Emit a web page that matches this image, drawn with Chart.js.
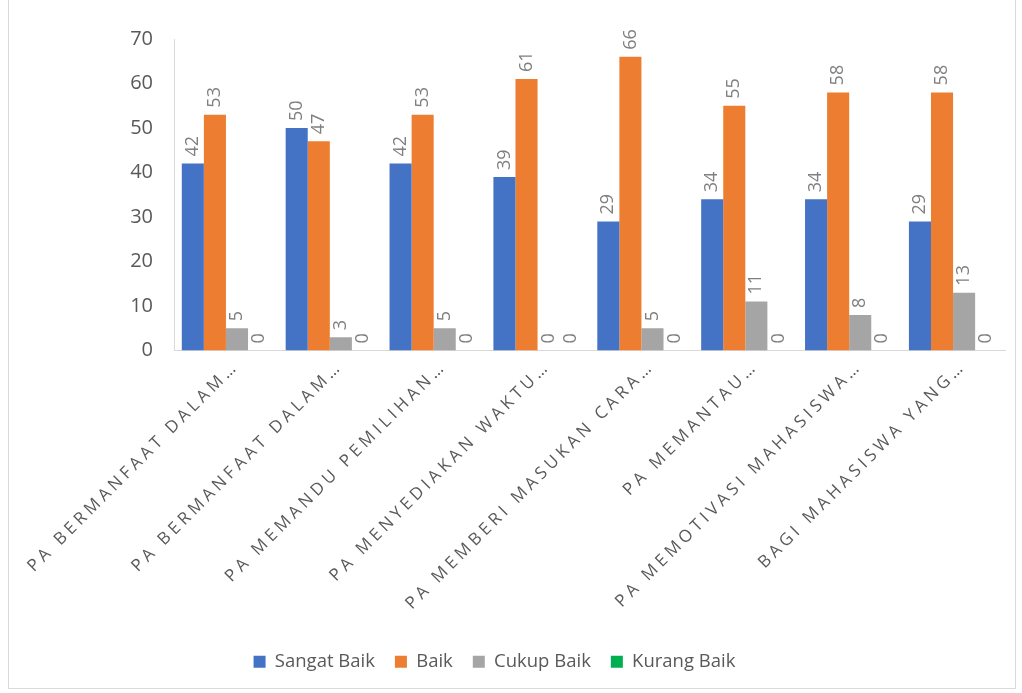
<!DOCTYPE html>
<html>
<head>
<meta charset="utf-8">
<script src="https://cdn.jsdelivr.net/npm/chart.js@4.4.1/dist/chart.umd.min.js"></script>
<style>
  html, body { margin: 0; padding: 0; background: #fff; }
  #wrap { position: relative; width: 1022px; height: 693px; }
  #frame { position: absolute; left: 8px; top: -2px; width: 1008px; height: 691px; border: 1px solid #d9d9d9; box-sizing: border-box; }
  canvas { position: absolute; left: 0; top: 0; }
</style>
</head>
<body>
<div id="wrap">
  <div id="frame"></div>
  <canvas id="chart" width="1022" height="693"></canvas>
</div>
<script>
// Data
const categories = [
    'PA BERMANFAAT DALAM\u2026',
    'PA BERMANFAAT DALAM\u2026',
    'PA MEMANDU PEMILIHAN\u2026',
    'PA MENYEDIAKAN WAKTU\u2026',
    'PA MEMBERI MASUKAN CARA\u2026',
    'PA MEMANTAU\u2026',
    'PA MEMOTIVASI MAHASISWA\u2026',
    'BAGI MAHASISWA YANG\u2026'
];
const sangatBaik = [42, 50, 42, 39, 29, 34, 34, 29];
const baik = [53, 47, 53, 61, 66, 55, 58, 58];
const cukupBaik = [5, 3, 5, 0, 5, 11, 8, 13];
const kurangBaik = [0, 0, 0, 0, 0, 0, 0, 0];
const yTicks = [0, 10, 20, 30, 40, 50, 60, 70];

const FONT = "'Open Sans', sans-serif";
const TEXT = '#595959';

// value labels drawn vertically above each bar
const valueLabels = {
    id: 'valueLabels',
    afterDatasetsDraw(chart) {
        const ctx = chart.ctx;
        ctx.save();
        ctx.font = '18px ' + FONT;
        ctx.fillStyle = '#7f7f7f';
        ctx.textAlign = 'left';
        ctx.textBaseline = 'middle';
        chart.data.datasets.forEach((ds, i) => {
            const meta = chart.getDatasetMeta(i);
            meta.data.forEach((bar, j) => {
                ctx.save();
                ctx.translate(bar.x, bar.y - 7);
                ctx.rotate(-Math.PI / 2);
                ctx.fillText(String(ds.data[j]), 0, 0);
                ctx.restore();
            });
        });
        ctx.restore();
    }
};

// letter spacing for the rotated category labels, legend nudged left
const spacedLabels = {
    id: 'spacedLabels',
    afterLayout(chart) {
        chart.legend.left -= 8;
        chart.legend.right -= 8;
    },
    beforeDraw(chart) {
        const sx = chart.scales.x;
        if (!sx._spaced) {
            const orig = sx.drawLabels;
            sx.drawLabels = function (area) {
                const ctx = this.ctx;
                ctx.save();
                ctx.translate(10, 0);
                ctx.letterSpacing = '4px';
                orig.call(this, area);
                ctx.restore();
            };
            sx._spaced = true;
        }
    }
};

new Chart(document.getElementById('chart'), {
    type: 'bar',
    data: {
        labels: categories,
        datasets: [
            { label: 'Sangat Baik', data: sangatBaik, backgroundColor: '#4472C4' },
            { label: 'Baik', data: baik, backgroundColor: '#ED7D31' },
            { label: 'Cukup Baik', data: cukupBaik, backgroundColor: '#A5A5A5' },
            { label: 'Kurang Baik', data: kurangBaik, backgroundColor: '#00B050' }
        ]
    },
    options: {
        responsive: false,
        animation: false,
        devicePixelRatio: 1,
        layout: { padding: { left: 0, right: 17, top: 39, bottom: 12 } },
        datasets: { bar: { categoryPercentage: 0.85, barPercentage: 1 } },
        plugins: {
            legend: {
                position: 'bottom',
                labels: {
                    font: { family: FONT, size: 18.5 },
                    color: TEXT,
                    boxWidth: 12,
                    boxHeight: 12,
                    padding: 20
                }
            },
            tooltip: { enabled: false }
        },
        scales: {
            x: {
                grid: { display: false, drawTicks: false },
                border: { display: true, color: '#d9d9d9', width: 1 },
                ticks: {
                    font: { family: FONT, size: 17 },
                    color: TEXT,
                    minRotation: 45,
                    maxRotation: 45,
                    autoSkip: false,
                    padding: 6
                },
                afterFit(scale) { scale.height = 282; }
            },
            y: {
                min: 0,
                max: 70,
                afterBuildTicks(scale) { scale.ticks = yTicks.map(v => ({ value: v })); },
                grid: { display: false, drawTicks: false },
                border: { display: true, color: '#d9d9d9', width: 1 },
                ticks: {
                    font: { family: FONT, size: 20 },
                    color: TEXT,
                    padding: 21
                },
                afterFit(scale) { scale.width = 174; }
            }
        }
    },
    plugins: [valueLabels, spacedLabels]
});
</script>
</body>
</html>
